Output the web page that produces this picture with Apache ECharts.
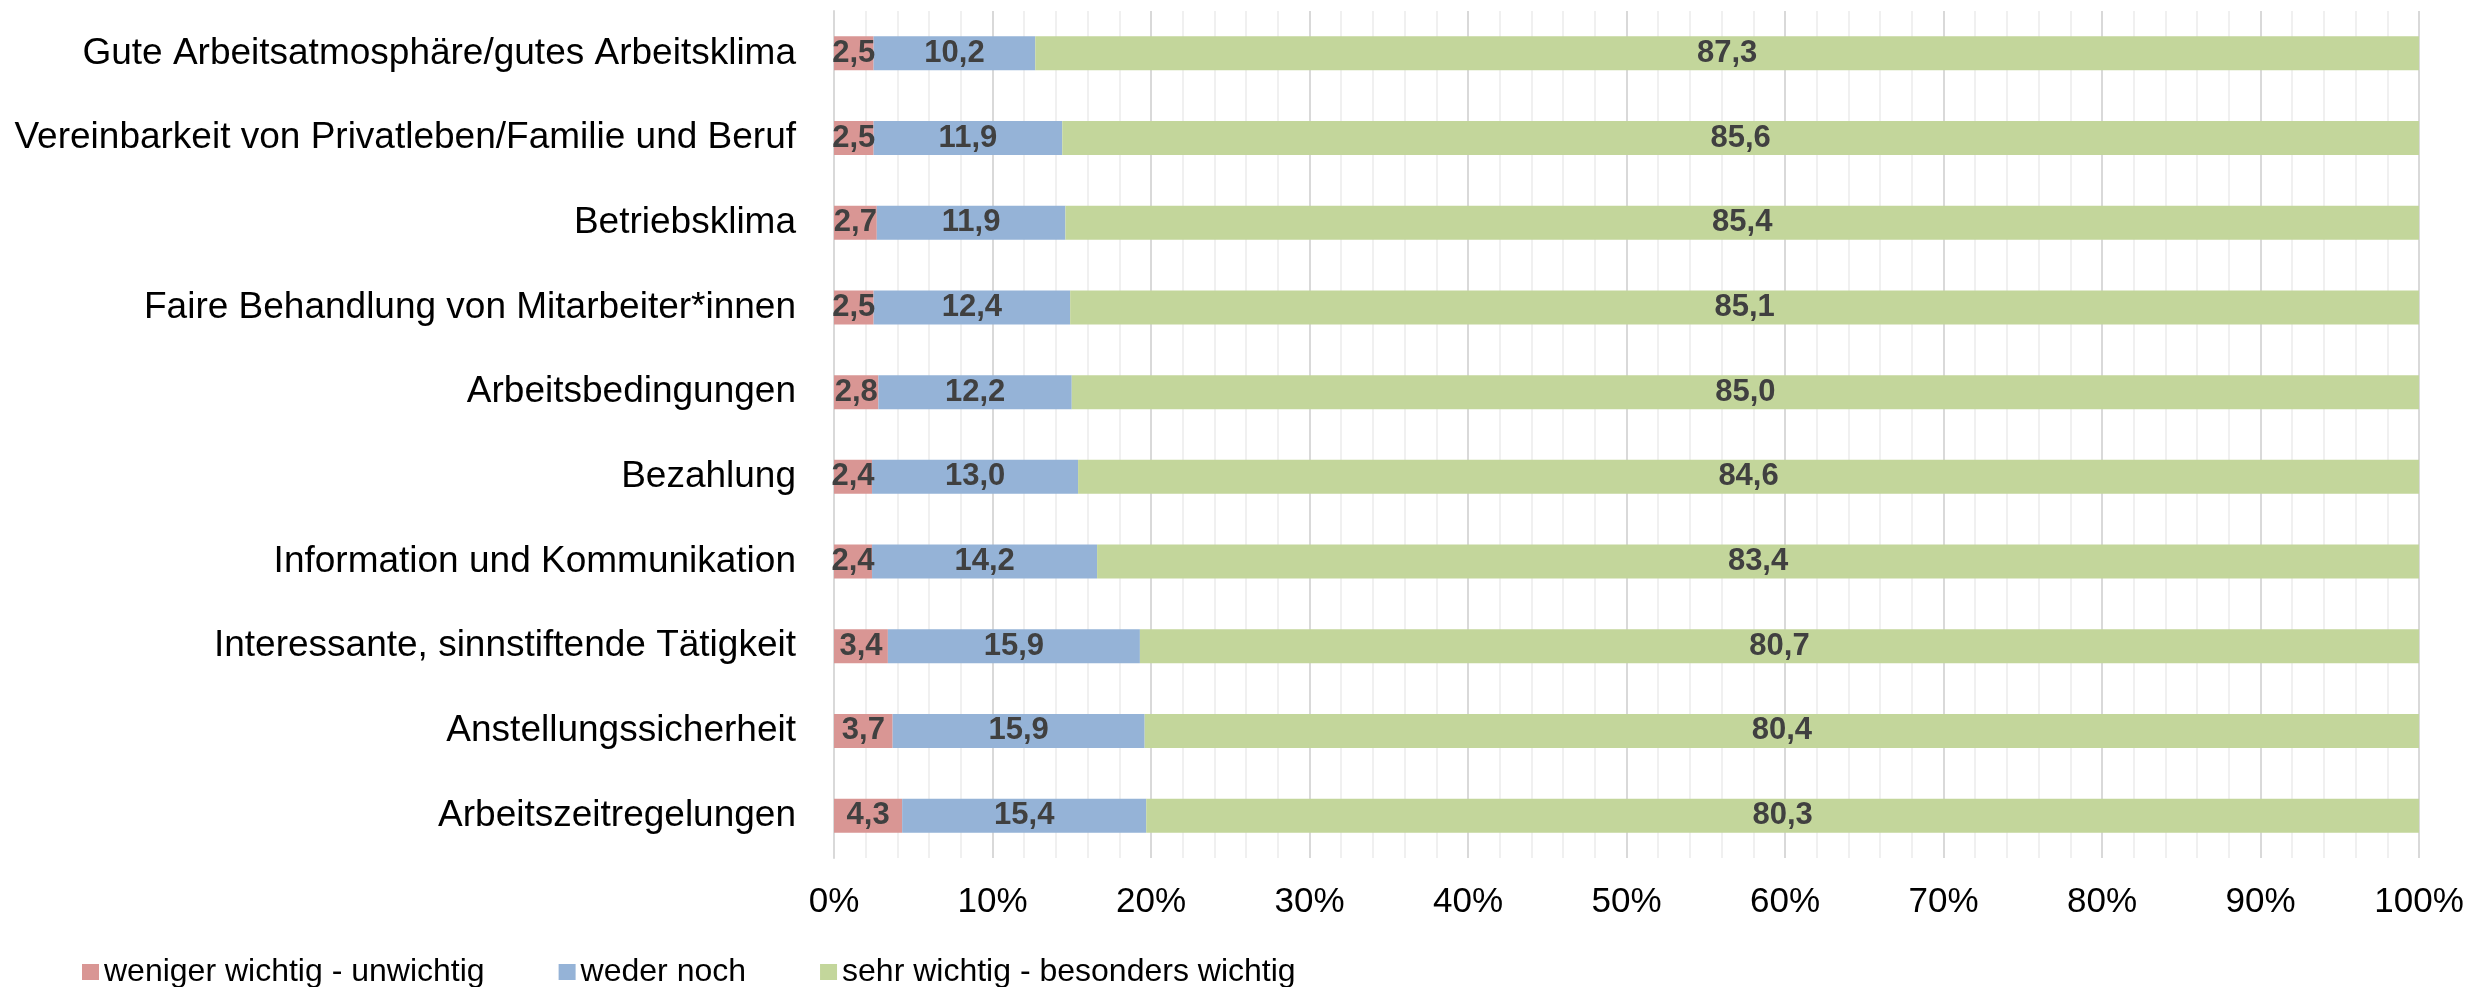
<!DOCTYPE html>
<html>
<head>
<meta charset="utf-8">
<script src="https://cdn.jsdelivr.net/npm/echarts@6/dist/echarts.min.js"></script>
<style>
  html, body { margin: 0; padding: 0; background: #fff; }
  #chart { width: 2471px; height: 987px; }
</style>
</head>
<body>
<div id="chart"></div>
<script>
// Aspects of the workplace, top to bottom
const categories = [
  'Gute Arbeitsatmosphäre/gutes Arbeitsklima',
  'Vereinbarkeit von Privatleben/Familie und Beruf',
  'Betriebsklima',
  'Faire Behandlung von Mitarbeiter*innen',
  'Arbeitsbedingungen',
  'Bezahlung',
  'Information und Kommunikation',
  'Interessante, sinnstiftende Tätigkeit',
  'Anstellungssicherheit',
  'Arbeitszeitregelungen'
];
// Shares in percent
const wenigerWichtig = [2.5, 2.5, 2.7, 2.5, 2.8, 2.4, 2.4, 3.4, 3.7, 4.3];
const wederNoch      = [10.2, 11.9, 11.9, 12.4, 12.2, 13.0, 14.2, 15.9, 15.9, 15.4];
const sehrWichtig    = [87.3, 85.6, 85.4, 85.1, 85.0, 84.6, 83.4, 80.7, 80.4, 80.3];
const seriesNames = ['weniger wichtig - unwichtig', 'weder noch', 'sehr wichtig - besonders wichtig'];
const seriesColors = ['#D99694', '#95B3D7', '#C3D69B'];

const FONT = '"Liberation Sans", Arial, sans-serif';

function makeSeries(name, data, color) {
  return {
    name: name,
    type: 'bar',
    stack: 'total',
    data: data,
    barWidth: 34,
    itemStyle: { color: color },
    label: {
      show: true,
      position: 'inside',
      formatter: p => p.value.toFixed(1).replace('.', ','),
      fontFamily: FONT,
      fontWeight: 'bold',
      fontSize: 31,
      color: '#404040'
    },
    emphasis: { disabled: true }
  };
}

const chart = echarts.init(document.getElementById('chart'));
chart.setOption({
  animation: false,
  grid: { left: 834, right: 52, top: 11, bottom: 129, containLabel: false },
  legend: {
    left: 82,
    top: 956,
    padding: 0,
    itemWidth: 17,
    itemHeight: 16,
    itemGap: 74,
    icon: 'rect',
    textStyle: { fontFamily: FONT, fontSize: 32, color: '#000' },
    data: seriesNames
  },
  xAxis: {
    type: 'value',
    min: 0,
    max: 100,
    interval: 10,
    axisLine: { show: false },
    axisTick: { show: false },
    axisLabel: {
      formatter: v => v + '%',
      fontFamily: FONT,
      fontSize: 35,
      color: '#000',
      margin: 27
    },
    splitLine: { show: true, lineStyle: { color: '#D9D9D9', width: 2 } },
    minorTick: { show: false, splitNumber: 5 },
    minorSplitLine: { show: true, lineStyle: { color: '#F0F0F0', width: 2 } }
  },
  yAxis: {
    type: 'category',
    inverse: true,
    data: categories,
    axisLine: { show: true, lineStyle: { color: '#D9D9D9', width: 2 } },
    axisTick: { show: false },
    axisLabel: {
      fontFamily: FONT,
      fontSize: 37,
      color: '#000',
      margin: 38
    }
  },
  series: [
    makeSeries(seriesNames[0], wenigerWichtig, seriesColors[0]),
    makeSeries(seriesNames[1], wederNoch, seriesColors[1]),
    makeSeries(seriesNames[2], sehrWichtig, seriesColors[2])
  ]
});
</script>
</body>
</html>
